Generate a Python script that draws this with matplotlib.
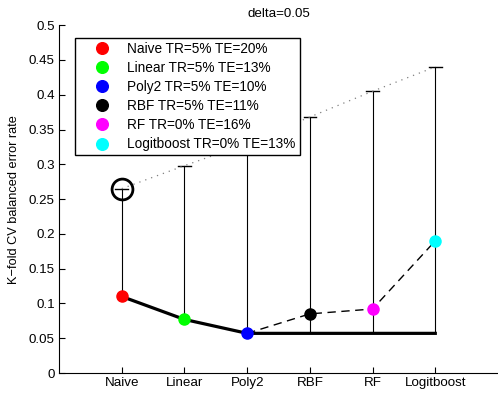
import matplotlib.pyplot as plt

plt.rcParams['font.family'] = ['Liberation Sans', 'DejaVu Sans']

methods = ["Naive", "Linear", "Poly2", "RBF", "RF", "Logitboost"]
colors = ["#ff0000", "#00ff00", "#0000ff", "#000000", "#ff00ff", "#00ffff"]
labels = ["Naive TR=5% TE=20%", "Linear TR=5% TE=13%", "Poly2 TR=5% TE=10%",
          "RBF TR=5% TE=11%", "RF TR=0% TE=16%", "Logitboost TR=0% TE=13%"]
err = [0.110, 0.077, 0.057, 0.085, 0.092, 0.190]       # CV error of each model
best = [0.110, 0.077, 0.057, 0.057, 0.057, 0.057]      # best so far
upper = [0.265, 0.298, 0.330, 0.368, 0.405, 0.440]     # upper bound (caps)

x = list(range(1, len(methods) + 1))

fig = plt.figure(figsize=(4.98, 3.98), dpi=100)
ax = fig.add_axes([0.1185, 0.0628, 0.8815, 0.874])

# vertical bars from best-so-far to upper bound
for xi, b, u in zip(x, best, upper):
    ax.plot([xi, xi], [b, u], color="black", lw=0.8, zorder=1)
    ax.plot([xi - 0.1, xi + 0.1], [u, u], color="black", lw=1.0, zorder=1)

ax.plot(x, upper, color="gray", lw=0.9, ls=(0, (1, 4)), zorder=1)
ax.plot(x[2:], err[2:], color="black", lw=1.0, ls=(0, (6, 4)), zorder=2)
ax.plot(x, best, color="black", lw=2.3, zorder=2)

for xi, e, c, lab in zip(x, err, colors, labels):
    ax.plot(xi, e, "o", color=c, ms=8, label=lab, zorder=3)

# circle around the chosen bound
ax.plot(x[0], upper[0], "o", mfc="none", mec="black", ms=15, mew=2, zorder=3)

ax.set_xlim(0, 7)
ax.set_ylim(0, 0.5)
ax.set_xticks(x)
ax.set_xticklabels(methods)
ax.set_yticks([i * 0.05 for i in range(11)])
ax.set_yticklabels(["0", "0.05", "0.1", "0.15", "0.2", "0.25", "0.3",
                    "0.35", "0.4", "0.45", "0.5"])
ax.tick_params(direction="in", labelsize=9.6, length=4, width=0.8, pad=3)
for s in ["top", "right"]:
    ax.spines[s].set_visible(False)
for s in ["left", "bottom"]:
    ax.spines[s].set_linewidth(0.8)

ax.set_ylabel("K\u2212fold CV balanced error rate", fontsize=9.2, labelpad=6)
ax.set_title("delta=0.05", fontsize=9.6, pad=6)

leg = ax.legend(loc="upper left", bbox_to_anchor=(0.036, 0.963), borderaxespad=0,
                fontsize=9.8, fancybox=False, edgecolor="black", framealpha=1,
                labelspacing=0.37, handlelength=3.4, handletextpad=0.15,
                borderpad=0.3, markerscale=1.05)
leg.get_frame().set_linewidth(1.0)

fig.savefig("out.png", dpi=100)
